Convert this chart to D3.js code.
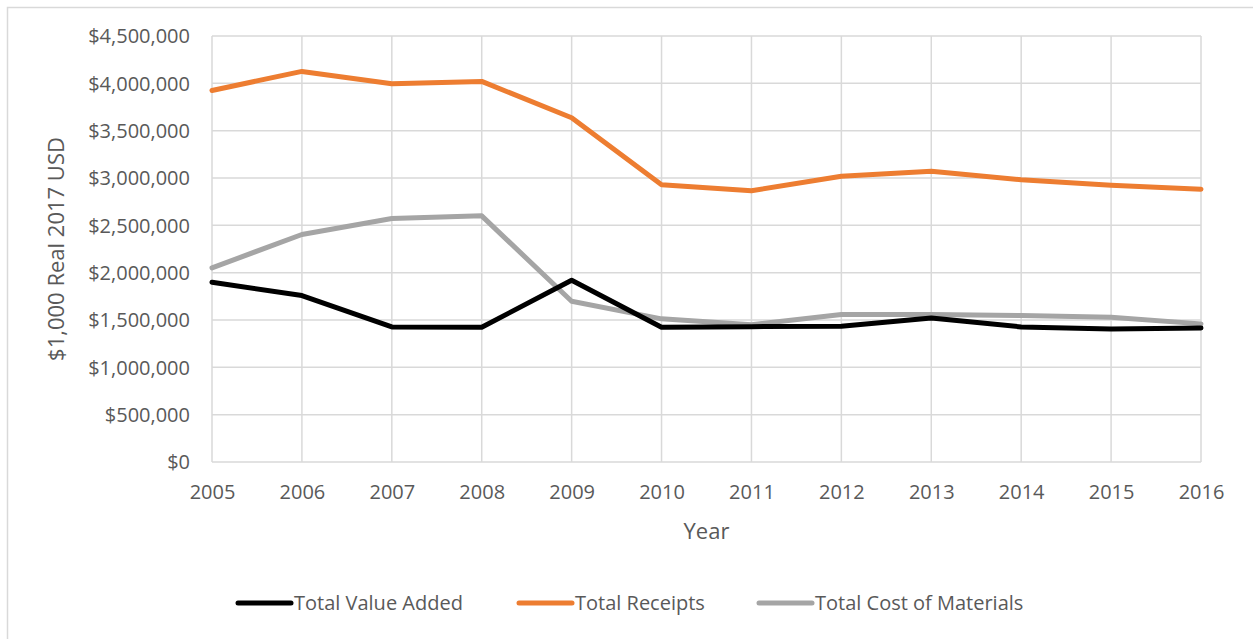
<!DOCTYPE html>
<html>
<head>
<meta charset="utf-8">
<script src="https://cdn.jsdelivr.net/npm/d3@7"></script>
<style>
  body { margin: 0; background: #fff; }
  text { font-family: "Open Sans", sans-serif; fill: #595959; }
</style>
</head>
<body>
<svg></svg>
<script>
// Data
var years = [2005, 2006, 2007, 2008, 2009, 2010, 2011, 2012, 2013, 2014, 2015, 2016];
var valueAdded = [1899000, 1758000, 1427000, 1423000, 1920000, 1423000, 1430000, 1434000, 1522000, 1427000, 1406000, 1416000];
var receipts = [3925000, 4126000, 3995000, 4020000, 3636000, 2928000, 2865000, 3019000, 3072000, 2981000, 2924000, 2882000];
var costMaterials = [2051000, 2403000, 2572000, 2600000, 1698000, 1512000, 1451000, 1557000, 1557000, 1547000, 1529000, 1459000];
var yTicks = [0, 500000, 1000000, 1500000, 2000000, 2500000, 3000000, 3500000, 4000000, 4500000];

var series = [
  {name: "Total Value Added", values: valueAdded, color: "#000000"},
  {name: "Total Receipts", values: receipts, color: "#ED7D31"},
  {name: "Total Cost of Materials", values: costMaterials, color: "#A5A5A5"}
];

// Layout
var svgWidth = 1253,
    svgHeight = 639,
    plot = {left: 212, right: 1201, top: 36, bottom: 462};

var svg = d3.select("svg")
  .attr("width", svgWidth)
  .attr("height", svgHeight);

// outer frame (only top and left edges are visible)
svg.append("path")
  .attr("d", "M7.5," + svgHeight + "V7.5H" + svgWidth)
  .attr("fill", "none")
  .attr("stroke", "#d9d9d9")
  .attr("stroke-width", 1.5);

var x = d3.scaleLinear()
  .domain([years[0], years[years.length - 1]])
  .range([plot.left, plot.right]);

var y = d3.scaleLinear()
  .domain([0, 4500000])
  .range([plot.bottom, plot.top]);

var fmt = function (d) { return "$" + d3.format(",")(d); };

// gridlines
var grid = svg.append("g").classed("grid", true);
grid.selectAll(".hgrid")
  .data(yTicks)
  .enter().append("line")
    .attr("x1", plot.left).attr("x2", plot.right)
    .attr("y1", function (d) { return y(d); })
    .attr("y2", function (d) { return y(d); })
    .attr("stroke", "#d9d9d9")
    .attr("stroke-width", 1.5);
grid.selectAll(".vgrid")
  .data(years)
  .enter().append("line")
    .attr("x1", function (d) { return x(d); })
    .attr("x2", function (d) { return x(d); })
    .attr("y1", plot.top).attr("y2", plot.bottom)
    .attr("stroke", "#d9d9d9")
    .attr("stroke-width", 1.5);

// axes
var yAxis = svg.append("g")
  .attr("transform", "translate(" + plot.left + ",0)")
  .call(d3.axisLeft(y).tickValues(yTicks).tickFormat(fmt).tickSize(0).tickPadding(22));
yAxis.select(".domain").remove();
yAxis.selectAll("text").style("font-size", "20px").attr("dy", "0.34em");

var xAxis = svg.append("g")
  .attr("transform", "translate(0," + plot.bottom + ")")
  .call(d3.axisBottom(x).tickValues(years).tickFormat(d3.format("d")).tickSize(0).tickPadding(23));
xAxis.select(".domain").remove();
xAxis.selectAll("text").style("font-size", "20px");

// axis titles
svg.append("text")
  .attr("transform", "translate(" + [64, (plot.top + plot.bottom) / 2] + ") rotate(-90)")
  .attr("text-anchor", "middle")
  .style("font-size", "22px")
  .text("$1,000 Real 2017 USD");

svg.append("text")
  .attr("x", (plot.left + plot.right) / 2)
  .attr("y", 539)
  .attr("text-anchor", "middle")
  .style("font-size", "22px")
  .text("Year");

// lines
var line = d3.line()
  .x(function (d, i) { return x(years[i]); })
  .y(function (d) { return y(d); });

svg.append("g").classed("lines", true)
  .selectAll("path")
  .data([series[2], series[0], series[1]])
  .enter().append("path")
    .attr("d", function (d) { return line(d.values); })
    .attr("fill", "none")
    .attr("stroke", function (d) { return d.color; })
    .attr("stroke-width", 5)
    .attr("stroke-linejoin", "round")
    .attr("stroke-linecap", "round");

// legend
var legendX = [238, 519, 759];
var legend = svg.append("g").classed("legend", true)
  .selectAll("g")
  .data(series)
  .enter().append("g")
    .attr("transform", function (d, i) { return "translate(" + [legendX[i], 603] + ")"; });

legend.append("line")
  .attr("x1", 0).attr("x2", 53)
  .attr("stroke", function (d) { return d.color; })
  .attr("stroke-width", 5)
  .attr("stroke-linecap", "round");

legend.append("text")
  .attr("x", 56)
  .attr("dy", "0.35em")
  .style("font-size", "20px")
  .text(function (d) { return d.name; });
</script>
</body>
</html>
